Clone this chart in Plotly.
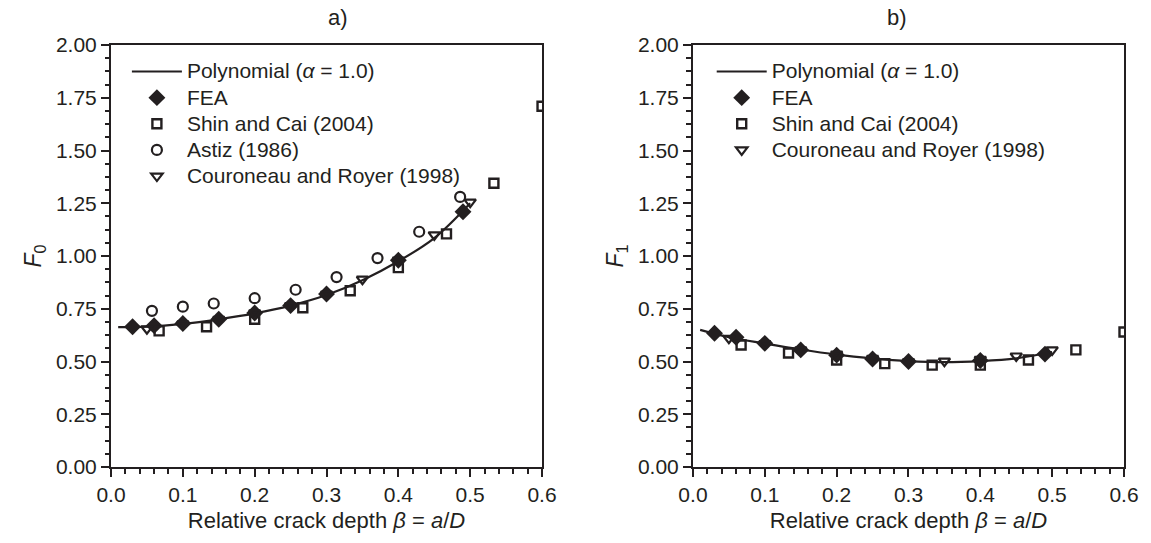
import plotly.graph_objects as go
from plotly.subplots import make_subplots

# ---------------- data ----------------
poly_beta = [0.01, 0.05, 0.10, 0.15, 0.20, 0.25, 0.30, 0.35, 0.40, 0.45, 0.50]
poly_F0 = [0.663, 0.665, 0.678, 0.700, 0.728, 0.765, 0.815, 0.885, 0.975, 1.085, 1.250]
poly_F1 = [0.650, 0.615, 0.585, 0.557, 0.533, 0.515, 0.502, 0.497, 0.502, 0.515, 0.545]

fea_beta = [0.03, 0.06, 0.10, 0.15, 0.20, 0.25, 0.30, 0.40, 0.49]
fea_F0 = [0.665, 0.670, 0.680, 0.700, 0.730, 0.765, 0.820, 0.980, 1.210]
fea_F1 = [0.634, 0.615, 0.586, 0.555, 0.530, 0.512, 0.500, 0.505, 0.535]

shin_beta = [0.067, 0.133, 0.200, 0.267, 0.333, 0.400, 0.467, 0.533, 0.600]
shin_F0 = [0.645, 0.665, 0.700, 0.755, 0.835, 0.945, 1.105, 1.345, 1.710]
shin_F1 = [0.578, 0.540, 0.507, 0.490, 0.483, 0.483, 0.507, 0.555, 0.640]

astiz_beta = [0.057, 0.100, 0.143, 0.200, 0.257, 0.314, 0.371, 0.429, 0.486]
astiz_F0 = [0.740, 0.760, 0.775, 0.800, 0.840, 0.900, 0.990, 1.115, 1.280]

cour_beta = [0.05, 0.10, 0.15, 0.20, 0.25, 0.30, 0.35, 0.40, 0.45, 0.50]
cour_F0 = [0.655, 0.678, 0.700, 0.730, 0.765, 0.820, 0.890, 0.980, 1.100, 1.255]
cour_F1 = [0.610, 0.585, 0.555, 0.535, 0.515, 0.500, 0.502, 0.510, 0.526, 0.555]

x_ticks = [0.0, 0.1, 0.2, 0.3, 0.4, 0.5, 0.6]
y_ticks = [0.0, 0.25, 0.5, 0.75, 1.0, 1.25, 1.5, 1.75, 2.0]

# ---------------- styling ----------------
INK = "#231f20"
FONT = "Liberation Sans, Arial, sans-serif"
LEG_TXT = '<span style="font-size:21px">{}</span>'

fig = make_subplots(rows=1, cols=2, horizontal_spacing=0.149)

def add_panel(col, F_poly, F_fea, F_shin, F_cour, F_astiz, legend):
    fig.add_trace(go.Scatter(x=poly_beta, y=F_poly, mode="lines", line=dict(color=INK, width=2.2, shape="spline"),
                             name=LEG_TXT.format("Polynomial (<i>α</i> = 1.0)"), legend=legend), row=1, col=col)
    fig.add_trace(go.Scatter(x=fea_beta, y=F_fea, mode="markers",
                             marker=dict(symbol="diamond", size=13, color=INK, line=dict(width=0)),
                             name=LEG_TXT.format("FEA"), legend=legend), row=1, col=col)
    fig.add_trace(go.Scatter(x=shin_beta, y=F_shin, mode="markers",
                             marker=dict(symbol="square-open", size=9, color=INK, line=dict(width=2.4, color=INK)),
                             name=LEG_TXT.format("Shin and Cai (2004)"), legend=legend), row=1, col=col)
    if F_astiz is not None:
        fig.add_trace(go.Scatter(x=astiz_beta, y=F_astiz, mode="markers",
                                 marker=dict(symbol="circle-open", size=10, color=INK, line=dict(width=2.2, color=INK)),
                                 name=LEG_TXT.format("Astiz (1986)"), legend=legend), row=1, col=col)
    fig.add_trace(go.Scatter(x=cour_beta, y=F_cour, mode="markers",
                             marker=dict(symbol="triangle-down-open", size=10, color=INK, line=dict(width=2.2, color=INK)),
                             name=LEG_TXT.format("Couroneau and Royer (1998)"), legend=legend), row=1, col=col)

add_panel(1, poly_F0, fea_F0, shin_F0, cour_F0, astiz_F0, "legend")
add_panel(2, poly_F1, fea_F1, shin_F1, cour_F1, None, "legend2")

axis_common = dict(showline=True, linecolor=INK, linewidth=2, mirror=True, showgrid=False, zeroline=False,
                   ticks="outside", ticklen=8, tickwidth=1.6, tickcolor=INK,
                   tickfont=dict(family=FONT, size=21, color=INK))

for c in (1, 2):
    fig.update_xaxes(range=[0, 0.6], tickvals=x_ticks, ticktext=[f"{v:.1f}" for v in x_ticks],
                     minor=dict(dtick=0.02, ticks="outside", ticklen=4.5, tickwidth=1.5, tickcolor=INK),
                     title=dict(text="Relative crack depth <i>β</i> = <i>a</i>/<i>D</i>",
                                font=dict(family=FONT, size=22, color=INK), standoff=7),
                     **axis_common, row=1, col=c)
    fig.update_yaxes(range=[0, 2.0], tickvals=y_ticks, ticktext=[f"{v:.2f}" for v in y_ticks],
                     minor=dict(dtick=0.0625, ticks="outside", ticklen=4.5, tickwidth=1.5, tickcolor=INK),
                     title=dict(text=("<i>F</i><sub>0</sub>" if c == 1 else "<i>F</i><sub>1</sub>"),
                                font=dict(family=FONT, size=23, color=INK), standoff=8),
                     **axis_common, row=1, col=c)

leg_common = dict(font=dict(family=FONT, size=17.8, color=INK), bgcolor="rgba(0,0,0,0)",
                  xanchor="left", yanchor="top", tracegroupgap=0, itemwidth=50)

fig.update_layout(
    width=1151, height=543,
    margin=dict(l=111, r=20, t=45, b=76),
    paper_bgcolor="white", plot_bgcolor="white",
    font=dict(family=FONT, color=INK),
    showlegend=True,
    legend=dict(x=0.0157, y=0.98, xref="paper", yref="paper", **leg_common),
    legend2=dict(x=0.593, y=0.98, xref="paper", yref="paper", **leg_common),
    annotations=[
        dict(text="a)", x=0.2127, y=1.0, xref="paper", yref="paper", yanchor="bottom", yshift=13,
             showarrow=False, font=dict(family=FONT, size=22, color=INK)),
        dict(text="b)", x=0.7873, y=1.0, xref="paper", yref="paper", yanchor="bottom", yshift=13,
             showarrow=False, font=dict(family=FONT, size=22, color=INK)),
    ],
)

fig.write_html("out.html")
